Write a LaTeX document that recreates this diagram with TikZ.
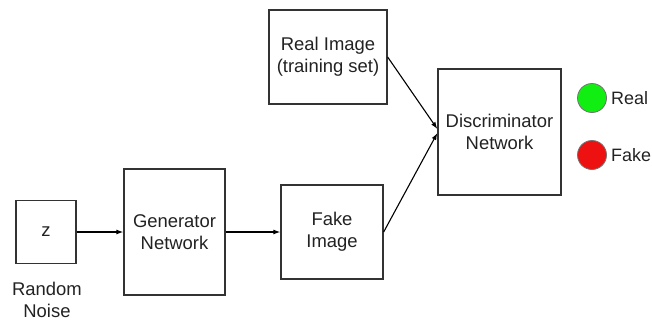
\documentclass[tikz,border=0pt]{standalone}
\usepackage{fontspec}
\setmainfont{Liberation Sans}
\usetikzlibrary{arrows.meta,calc}
\definecolor{boxline}{HTML}{333333}
\definecolor{txt}{HTML}{222222}
\definecolor{lampgreen}{HTML}{11EE11}
\definecolor{lampred}{HTML}{EE1111}
\begin{document}
\begin{tikzpicture}[x=1bp,y=-1bp,
  blk/.style={draw=boxline,line width=1.3bp,rectangle,inner sep=0pt,align=center,text=txt,font=\fontsize{18.5}{22}\selectfont},
  conn/.style={line width=1.1bp,-{Latex[length=7bp,width=5bp]}},
  lamp/.style={circle,draw=black!55,line width=0.8bp,minimum size=29bp,inner sep=0pt},
  lbl/.style={font=\fontsize{18.5}{22}\selectfont,text=txt,inner sep=0pt,align=center},
  side/.style={font=\fontsize{18}{22}\selectfont,text=txt,inner sep=0pt,anchor=west}]
\useasboundingbox (0,0) rectangle (652,322);
\node[blk,minimum width=60bp,minimum height=63bp] (z) at (46,232) {z};
\node[blk,minimum width=101bp,minimum height=126bp] (gen) at (174.5,232) {Generator\\Network};
\node[blk,minimum width=102bp,minimum height=94bp] (fake) at (332,232) {Fake\\Image};
\node[blk,minimum width=118bp,minimum height=94bp] (real) at (328,57) {Real Image\\(training set)};
\node[blk,minimum width=123bp,minimum height=126bp] (disc) at (499.5,132) {Discriminator\\Network};
\node[lbl] (noise) at (47,300) {Random\\Noise};
\node[lamp,fill=lampgreen] (g) at (592,98) {};
\node[lamp,fill=lampred] (r) at (592,155) {};
\node[side] (greal) at (611,98) {Real};
\node[side] (rfake) at (611,155) {Fake};
\coordinate (din1) at ($(disc.west)+(0,-3)$);
\coordinate (din2) at ($(disc.west)+(0,1)$);
\draw[conn] (z.east) -- (gen.west);
\draw[conn] (gen.east) -- (fake.west);
\draw[conn] (real.east) -- (din1);
\draw[conn] (fake.east) -- (din2);
\end{tikzpicture}
\end{document}
